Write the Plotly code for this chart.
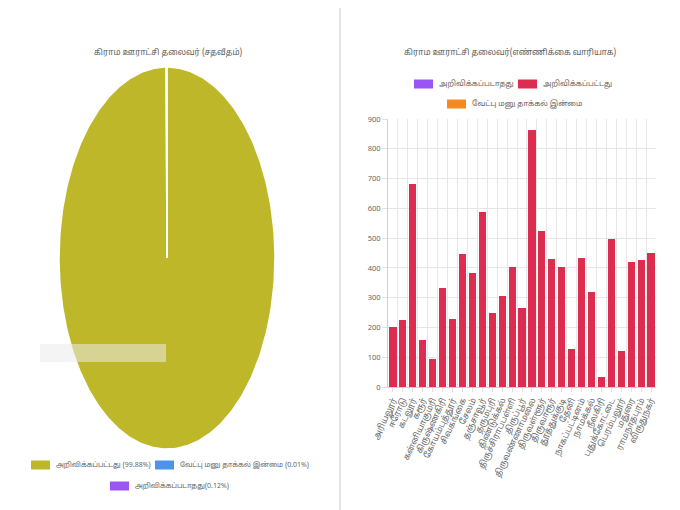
import numpy as np
import plotly.graph_objects as go

# ---------------- data ----------------
districts = ["அரியலூர்", "ஈரோடு", "கடலூர்", "கரூர்", "கன்னியாகுமரி", "கிருஷ்ணகிரி",
             "கோயம்புத்தூர்", "சிவகங்கை", "சேலம்", "தஞ்சாவூர்", "தருமபுரி", "திண்டுக்கல்",
             "திருச்சிராப்பள்ளி", "திருப்பூர்", "திருவண்ணாமலை", "திருவள்ளூர்", "திருவாரூர்",
             "தூத்துக்குடி", "தேனி", "நாகப்பட்டினம்", "நாமக்கல்", "நீலகிரி", "புதுக்கோட்டை",
             "பெரம்பலூர்", "மதுரை", "ராமநாதபுரம்", "விருதுநகர்"]
declared = [200, 225, 682, 157, 94, 333, 228, 446, 384, 589, 250, 305, 404, 264,
            862, 525, 430, 402, 128, 434, 320, 34, 496, 120, 420, 428, 449]
undeclared = [0] * len(districts)
no_nomination = [0] * len(districts)

bar_series = ["அறிவிக்கப்படாதது", "அறிவிக்கப்பட்டது", "வேட்பு மனு தாக்கல் இன்மை"]
pie_labels = ["அறிவிக்கப்பட்டது", "வேட்பு மனு தாக்கல் இன்மை", "அறிவிக்கப்படாதது"]
pie_values = [99.88, 0.01, 0.12]
y_ticks = list(range(0, 901, 100))

title_left = "கிராம ஊராட்சி தலைவர் (சதவீதம்)"
title_right = "கிராம ஊராட்சி தலைவர்(எண்ணிக்கை வாரியாக)"

# ---------------- style ----------------
OLIVE = "#bdb729"
BLUE = "#4b94ea"
PURPLE = "#9b55f5"
RED = "#dc2d50"
ORANGE = "#f58a23"
pie_colors = [OLIVE, BLUE, PURPLE]
FONT = "Noto Sans Tamil, Lato, Noto Sans, sans-serif"
OFF = 8            # page body margin offset
W, H = 680 - OFF, 510 - OFF


def px(x):
    return (x - OFF) / W


def py(y):
    return 1 - (y - OFF) / H


fig = go.Figure()

# ---- pie drawn as elliptical wedges (stretched like the reference) ----
total = sum(pie_values)
start = 0.0
for lab, val, col in zip(pie_labels, pie_values, pie_colors):
    span = 2 * np.pi * val / total
    t = np.linspace(start, start + span, max(3, int(400 * val / total) + 3))
    xs = np.concatenate([[0], np.sin(t), [0]])
    ys = np.concatenate([[0], np.cos(t), [0]])
    fig.add_trace(go.Scatter(x=xs, y=ys, mode="lines", fill="toself", fillcolor=col,
                             line=dict(color="white", width=1.5), name=lab,
                             showlegend=False, xaxis="x", yaxis="y",
                             hovertemplate=f"{lab}: {val}%<extra></extra>"))
    start += span

# ---- bars ----
for name, vals, col in zip(bar_series, [undeclared, declared, no_nomination], [PURPLE, RED, ORANGE]):
    fig.add_trace(go.Bar(x=districts, y=vals, name=name, marker_color=col,
                         marker_line_width=0, width=0.72, showlegend=False,
                         xaxis="x2", yaxis="y2"))

# helper axis for vertical gridlines between categories
fig.add_trace(go.Scatter(x=[], y=[], xaxis="x3", yaxis="y2", showlegend=False))

n = len(districts)
grid = "#e6e6e6"
fig.update_layout(
    width=W, height=H, margin=dict(l=0, r=0, t=0, b=0, pad=0, autoexpand=False),
    autosize=False,
    paper_bgcolor="white", plot_bgcolor="white", showlegend=False,
    barmode="stack", font=dict(family=FONT, color="#666"),
    xaxis=dict(domain=[px(59), px(275)], range=[-1, 1], visible=False, fixedrange=True,
               automargin=False),
    yaxis=dict(domain=[py(449), py(67)], range=[-1, 1], visible=False, fixedrange=True,
               automargin=False),
    xaxis2=dict(domain=[px(388), px(656)], anchor="y2", type="category",
                range=[-0.5, n - 0.5], tickangle=-65, showgrid=False, automargin=False,
                tickmode="array", tickvals=districts, ticktext=districts,
                tickfont=dict(size=8.5, color="#666"), showline=True, linecolor="#d0d0d0",
                ticks="outside", ticklen=4, tickcolor="#e0e0e0"),
    xaxis3=dict(domain=[px(388), px(656)], anchor="y2", overlaying="x2",
                range=[-0.5, n - 0.5], tickmode="array", automargin=False,
                tickvals=list(np.arange(n + 1) - 0.5), showticklabels=False,
                showgrid=True, gridcolor=grid, gridwidth=1, zeroline=False, ticks=""),
    yaxis2=dict(domain=[py(387), py(119)], anchor="x2", range=[0, 900], automargin=False,
                tickvals=y_ticks, ticktext=[str(v) for v in y_ticks],
                showgrid=True, gridcolor=grid, zeroline=False, showline=True,
                linecolor="#d0d0d0", ticks="outside", ticklen=5, tickcolor="#e0e0e0",
                tickfont=dict(size=7.5, color="#666")),
)

# titles
fig.add_annotation(x=px(168), y=py(52), xref="paper", yref="paper", text=title_left,
                   showarrow=False, xanchor="center", yanchor="middle",
                   font=dict(size=8.2, color="#5a5a5a"))
fig.add_annotation(x=px(510), y=py(52), xref="paper", yref="paper", text=title_right,
                   showarrow=False, xanchor="center", yanchor="middle",
                   font=dict(size=8.2, color="#5a5a5a"))


def legend_item(x0, yc, color, text, size=8.5):
    fig.add_shape(type="rect", xref="paper", yref="paper",
                  x0=px(x0), x1=px(x0 + 19), y0=py(yc + 4.5), y1=py(yc - 4.5),
                  fillcolor=color, line=dict(width=0))
    fig.add_annotation(x=px(x0 + 23), y=py(yc), xref="paper", yref="paper", text=text,
                       showarrow=False, xanchor="left", yanchor="middle",
                       font=dict(size=size, color="#666"))


# pie legend
legend_item(31, 465, pie_colors[0], f"{pie_labels[0]} ({pie_values[0]}%)", 7.0)
legend_item(155, 465, pie_colors[1], f"{pie_labels[1]} ({pie_values[1]}%)", 7.0)
legend_item(110, 486, pie_colors[2], f"{pie_labels[2]}({pie_values[2]}%)", 7.0)

# bar legend
legend_item(414, 84, PURPLE, bar_series[0], 7.5)
legend_item(518, 84, RED, bar_series[1], 7.5)
legend_item(447, 104, ORANGE, bar_series[2], 7.5)

# divider between the two charts
fig.add_shape(type="line", xref="paper", yref="paper", x0=px(340), x1=px(340), y0=0, y1=1,
              line=dict(color="#c8c8c8", width=1))

# faint ghost box over the pie
fig.add_shape(type="rect", xref="paper", yref="paper", x0=px(40), x1=px(166),
              y0=py(362), y1=py(344), fillcolor="rgba(235,235,235,0.55)", line=dict(width=0))

fig.write_html("out.html")
